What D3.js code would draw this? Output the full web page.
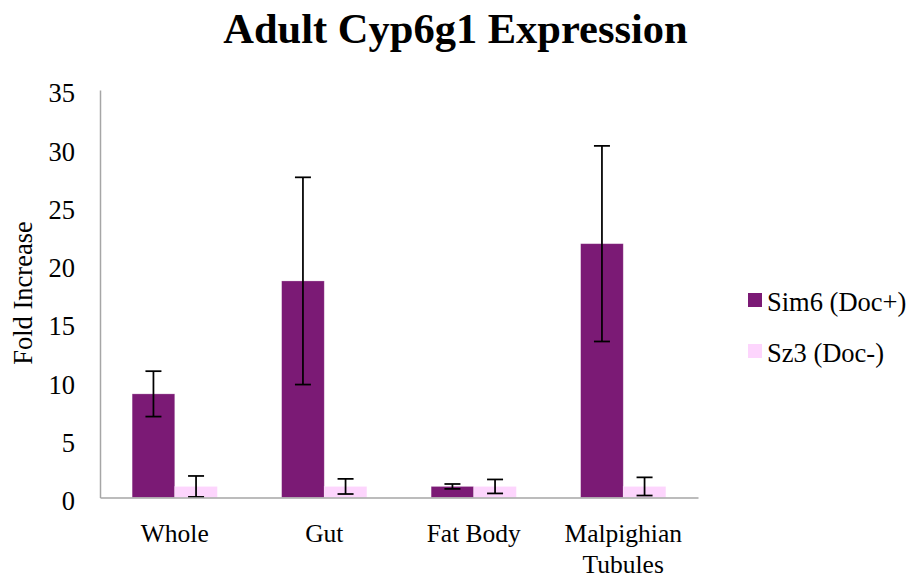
<!DOCTYPE html>
<html>
<head>
<meta charset="utf-8">
<script src="https://cdn.jsdelivr.net/npm/d3@7"></script>
<style>
  html, body { margin: 0; padding: 0; background: #fff; }
  svg { display: block; }
</style>
</head>
<body>
<svg id="chart" width="910" height="579"></svg>
<script>
const categories = ["Whole", "Gut", "Fat Body", "Malpighian Tubules"];
const seriesNames = ["Sim6 (Doc+)", "Sz3 (Doc-)"];
const sim6Values = [8.9, 18.6, 0.95, 21.8];
const sim6Errors = [1.95, 8.9, 0.21, 8.4];
const sz3Values = [0.95, 0.95, 0.95, 0.95];
const sz3Errors = [0.9, 0.65, 0.6, 0.78];
const yTicks = [0, 5, 10, 15, 20, 25, 30, 35];
const colors = ["#7b1a75", "#fdd5fd"];

(function () {
const svg = d3.select("#chart");
const plotLeft = 100, plotRight = 698, plotTop = 90, plotBottom = 497.5;
const serif = "'Liberation Serif', 'Times New Roman', serif";

const x0 = d3.scaleBand().domain(categories).range([plotLeft, plotRight])
  .paddingInner(0.43).paddingOuter(0.215);
const x1 = d3.scaleBand().domain(seriesNames).range([0, x0.bandwidth()]);
const y = d3.scaleLinear().domain([0, 35]).range([plotBottom, plotTop]);
const color = d3.scaleOrdinal().domain(seriesNames).range(colors);

const data = categories.map((c, i) => ({
  cat: c,
  vals: [
    { s: seriesNames[0], v: sim6Values[i], e: sim6Errors[i] },
    { s: seriesNames[1], v: sz3Values[i], e: sz3Errors[i] }
  ]
}));

// Title
svg.append("text")
  .attr("x", 455.5).attr("y", 43)
  .attr("text-anchor", "middle")
  .attr("font-family", serif).attr("font-weight", "bold").attr("font-size", 42.5)
  .attr("fill", "#000")
  .text("Adult Cyp6g1 Expression");

// Bars
const g = svg.append("g");
const groups = g.selectAll("g.cat").data(data).join("g")
  .attr("class", "cat")
  .attr("transform", d => `translate(${x0(d.cat)},0)`);

groups.selectAll("rect").data(d => d.vals).join("rect")
  .attr("x", d => x1(d.s))
  .attr("y", d => y(d.v))
  .attr("width", x1.bandwidth())
  .attr("height", d => y(0) - y(d.v))
  .attr("fill", d => color(d.s))
  .attr("stroke", "#ffffff").attr("stroke-opacity", 0.35).attr("stroke-width", 0.75);

// Axes
const yAxis = d3.axisLeft(y).tickValues(yTicks).tickSize(0).tickPadding(25);
const yg = svg.append("g").attr("transform", `translate(${plotLeft},0)`).call(yAxis);
yg.select(".domain").attr("stroke", "#a6a6a6").attr("stroke-width", 1.5);
yg.selectAll("text")
  .attr("font-family", serif).attr("font-size", 26.5).attr("fill", "#000")
  .attr("dy", "0.45em");

const xAxis = d3.axisBottom(x0).tickSize(0).tickFormat("");
const xg = svg.append("g").attr("transform", `translate(0,${plotBottom})`).call(xAxis);
xg.select(".domain").attr("stroke", "#a6a6a6").attr("stroke-width", 1.5);

// Category labels (with wrapping)
const labelLines = {
  "Whole": ["Whole"], "Gut": ["Gut"], "Fat Body": ["Fat Body"],
  "Malpighian Tubules": ["Malpighian", "Tubules"]
};
categories.forEach(c => {
  const t = svg.append("text")
    .attr("x", x0(c) + x0.bandwidth() / 2)
    .attr("y", 541.5)
    .attr("text-anchor", "middle")
    .attr("font-family", serif).attr("font-size", 25.5).attr("fill", "#000");
  labelLines[c].forEach((line, i) => {
    t.append("tspan").attr("x", x0(c) + x0.bandwidth() / 2)
      .attr("dy", i === 0 ? 0 : 31).text(line);
  });
});

// Error bars (drawn on top)
const capW = 16;
groups.each(function(d) {
  const gg = d3.select(this);
  d.vals.forEach(v => {
    const cx = x1(v.s) + x1.bandwidth() / 2;
    const y1 = y(v.v + v.e), y2 = y(Math.max(0, v.v - v.e));
    gg.append("line").attr("x1", cx).attr("x2", cx).attr("y1", y1).attr("y2", y2)
      .attr("stroke", "#000").attr("stroke-width", 1.75);
    [y1, y2].forEach(yy => gg.append("line")
      .attr("x1", cx - capW / 2).attr("x2", cx + capW / 2)
      .attr("y1", yy).attr("y2", yy)
      .attr("stroke", "#000").attr("stroke-width", 1.75));
  });
});

// Y axis title
svg.append("text")
  .attr("transform", "translate(32,293) rotate(-90)")
  .attr("text-anchor", "middle")
  .attr("font-family", serif).attr("font-size", 26.5).attr("fill", "#000")
  .text("Fold Increase");

// Legend
const legendY = [300, 351];
seriesNames.forEach((s, i) => {
  svg.append("rect")
    .attr("x", 748).attr("y", legendY[i] - 7).attr("width", 14).attr("height", 14)
    .attr("fill", color(s));
  svg.append("text")
    .attr("x", 767).attr("y", legendY[i] + 11)
    .attr("font-family", serif).attr("font-size", 26.5).attr("fill", "#000")
    .text(s);
});
})();
</script>
</body>
</html>
